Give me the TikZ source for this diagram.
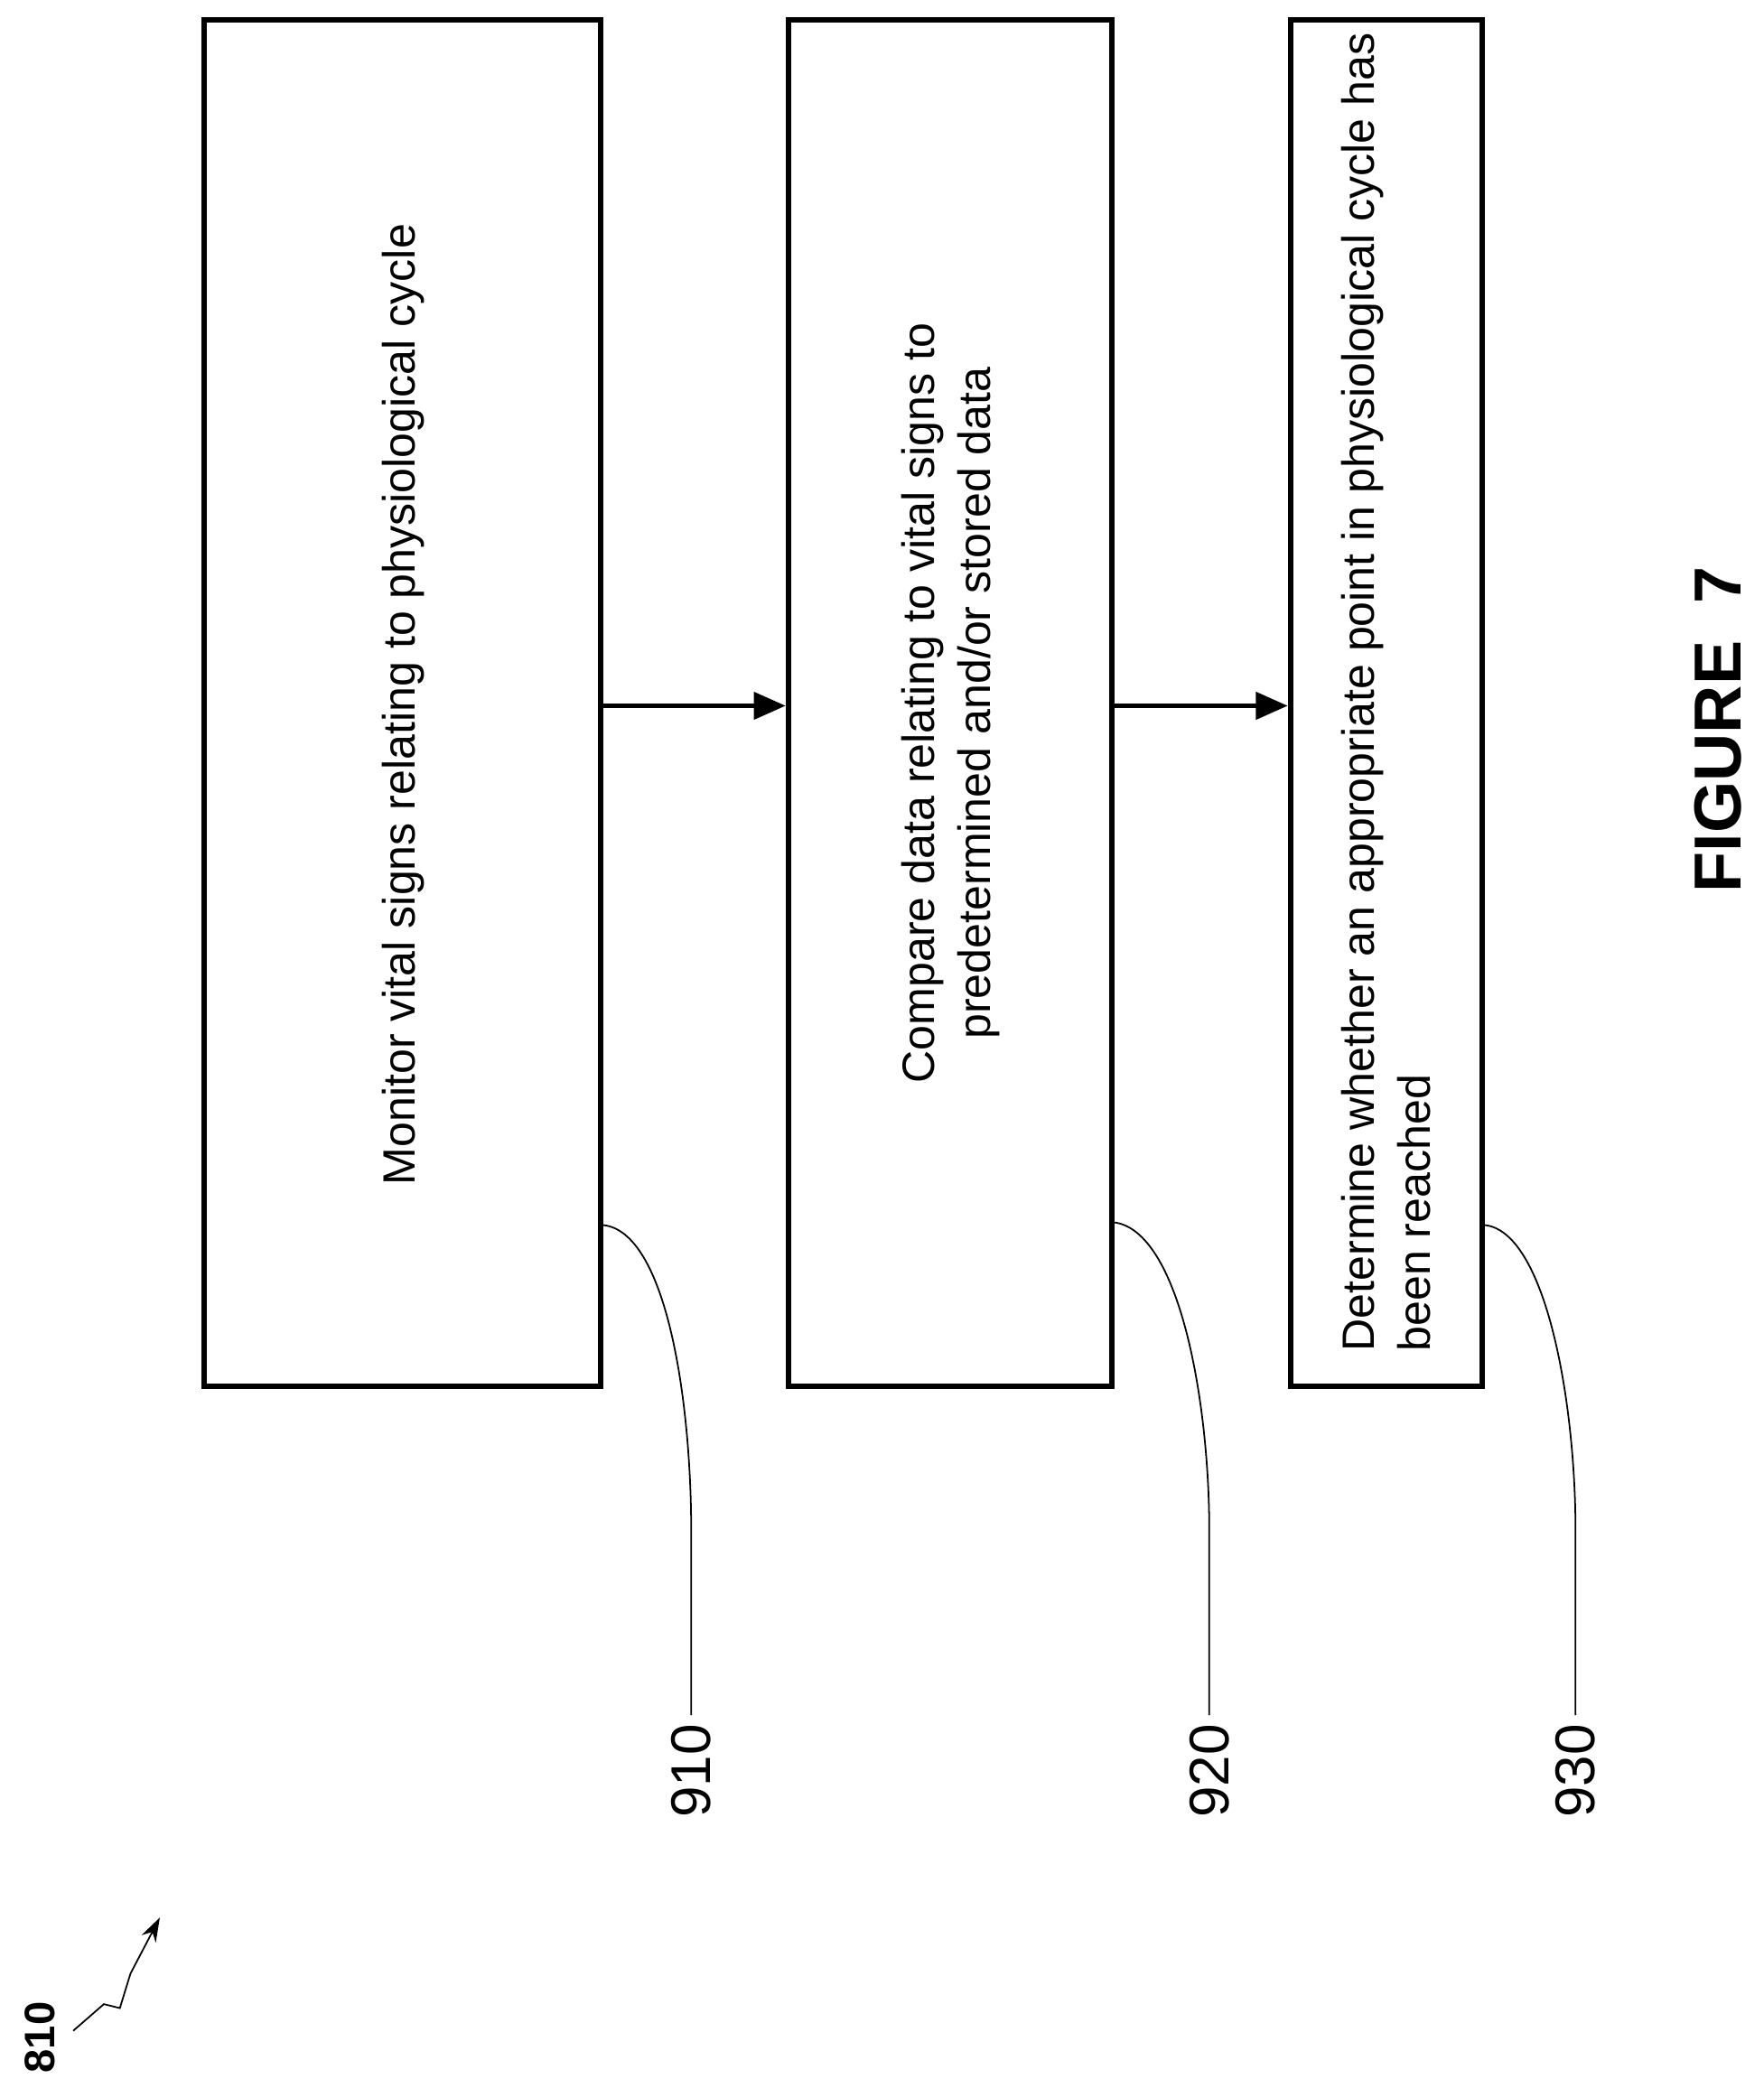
\documentclass[tikz,border=0pt]{standalone}
\usepackage{fontspec}
\setmainfont{Liberation Sans}
\usetikzlibrary{arrows.meta}
\begin{document}
\begin{tikzpicture}[x=0.5pt,y=-0.5pt,
  box/.style={draw,line width=2pt},
  flow/.style={line width=2pt,-{Triangle[length=12pt,width=10pt]}},
  lead/.style={line width=0.6pt},
  txt/.style={rotate=90,font=\fontsize{17}{21}\selectfont,align=center},
  lbl/.style={rotate=90,font=\fontsize{21}{24}\selectfont}]
\useasboundingbox (0,0) rectangle (1324,1568);
\node[box,minimum width=149pt,minimum height=513pt] (b1) at (302,528) {};
\node[box,minimum width=121.5pt,minimum height=513pt] (b2) at (713.5,528) {};
\node[box,minimum width=72pt,minimum height=513pt] (b3) at (1041,528) {};
\node[txt] (t1) at (303,529) {Monitor vital signs relating to physiological cycle};
\node[txt] (t2) at (714,528) {Compare data relating to vital signs to\\predetermined and/or stored data};
\node[txt,align=left,anchor=north west] (t3) at (1000,1022) {Determine whether an appropriate point in physiological cycle has\\been reached};
\draw[flow] (b1.east |- 0,530) -- (b2.west |- 0,530);
\draw[flow] (b2.east |- 0,530) -- (b3.west |- 0,530);
\node[lbl] (l1) at (519,1330) {910};
\node[lbl] (l2) at (908,1330) {920};
\node[lbl] (l3) at (1183,1330) {930};
\draw[lead] (b1.east |- 0,920) .. controls (500,925) and (519,1050) .. (519,1150) -- (l1.east);
\draw[lead] (b2.east |- 0,918) .. controls (885,925) and (908,1050) .. (908,1150) -- (l2.east);
\draw[lead] (b3.east |- 0,920) .. controls (1160,925) and (1183,1050) .. (1183,1150) -- (l3.east);
\node[rotate=90,font=\fontsize{25}{28}\selectfont\bfseries] (fig) at (1290,548) {FIGURE\ \ 7};
\node[rotate=90,font=\fontsize{16}{18}\selectfont\bfseries] (n810) at (30,1530) {810};
\coordinate (s0) at (55,1525);
\draw[lead,-{Stealth[length=9pt,width=6pt]}] (s0) -- (78,1505) -- (90,1508) -- (98,1482) -- (120,1440);
\end{tikzpicture}
\end{document}
